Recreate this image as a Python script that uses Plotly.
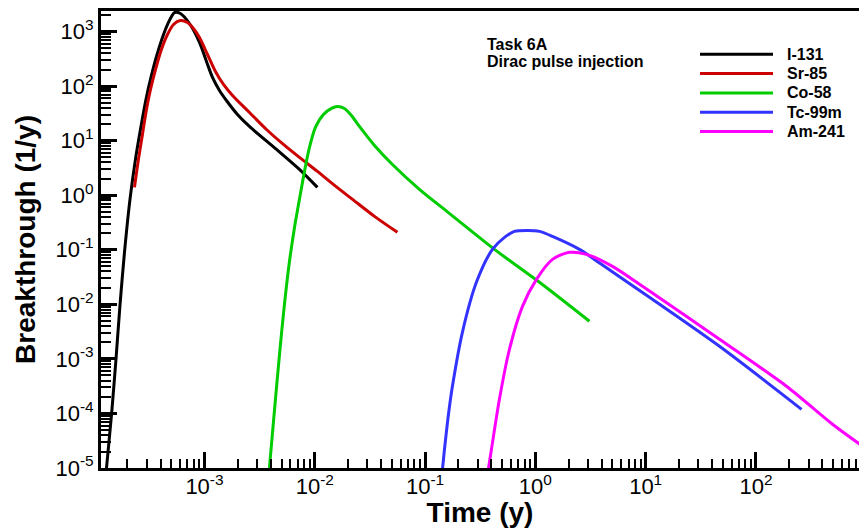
import plotly.graph_objects as go

# ---------------- data ----------------
i131_t = [1.266e-4, 1.294e-4, 1.377e-4, 1.450e-4, 1.577e-4, 1.714e-4, 1.883e-4, 2.112e-4,
          2.367e-4, 2.628e-4, 2.948e-4, 3.272e-4, 3.672e-4, 4.16e-4, 4.62e-4, 5.35e-4,
          6.05e-4, 7.31e-4, 9.01e-4, 1.043e-3, 1.183e-3, 1.368e-3, 1.582e-3, 1.991e-3,
          2.557e-3, 4.50e-3, 7.26e-3, 1.057e-2]
i131_b = [6.2e-6, 1.0e-5, 3.82e-5, 1.19e-4, 9.84e-4, 9.59e-3, 0.0896, 0.838,
          4.53, 16.0, 56.9, 143.7, 348, 776, 1343, 2229,
          2138, 1402, 630, 282, 144, 83.0, 54.4, 30.2,
          18.2, 6.90, 2.97, 1.39]

sr85_t = [2.32e-4, 2.52e-4, 2.74e-4, 2.98e-4, 3.24e-4, 3.60e-4, 4.07e-4, 4.62e-4, 5.24e-4,
          6.05e-4, 7.01e-4, 7.95e-4, 9.01e-4, 1.065e-3, 1.258e-3, 1.487e-3, 1.795e-3,
          2.56e-3, 3.65e-3, 5.20e-3, 7.26e-3, 1.057e-2, 1.51e-2, 2.20e-2, 3.48e-2, 5.62e-2]
sr85_b = [1.39, 4.53, 13.0, 37.2, 86.7, 201, 468, 881, 1343,
          1589, 1462, 1135, 776, 379, 185, 107, 67.3,
          32.8, 16.0, 8.51, 4.92, 2.73, 1.51, 0.838, 0.409, 0.2085]

co58_t = [3.80e-3, 3.88e-3, 4.32e-3, 4.79e-3, 5.31e-3, 5.90e-3, 6.55e-3, 7.26e-3, 8.07e-3,
          8.95e-3, 1.014e-2, 1.199e-2, 1.417e-2, 1.606e-2, 1.858e-2, 2.15e-2, 2.54e-2,
          3.48e-2, 5.06e-2, 8.89e-2, 0.166, 0.426, 1.089, 3.09]
co58_b = [6.2e-6, 1.0e-5, 1.19e-4, 1.21e-3, 1.0e-2, 6.14e-2, 0.257, 0.838, 2.73,
          7.50, 17.5, 30.2, 38.9, 42.3, 38.9, 29.0, 18.2,
          8.17, 3.66, 1.28, 0.465, 0.1016, 0.0253, 4.89e-3]

tc99m_t = [0.138, 0.144, 0.150, 0.163, 0.177, 0.218, 0.292, 0.408, 0.525, 0.646, 0.847,
           1.089, 1.429, 2.51, 3.97, 11.5, 46.7, 259]
tc99m_b = [6.2e-6, 1.0e-5, 2.21e-5, 9.66e-5, 3.15e-4, 3.07e-3, 0.0253, 0.1016, 0.1687,
           0.217, 0.226, 0.217, 0.176, 0.1016, 0.0541, 0.01236, 1.70e-3, 1.19e-4]

am241_t = [0.361, 0.376, 0.400, 0.472, 0.582, 0.764, 1.023, 1.429, 2.04, 2.90, 5.00,
           9.36, 46.7, 189, 494, 1072]
am241_b = [6.2e-6, 1.0e-5, 2.21e-5, 1.82e-4, 1.50e-3, 9.18e-3, 0.0287, 0.0667, 0.0896,
           0.0824, 0.0497, 0.0214, 2.29e-3, 3.15e-4, 6.34e-5, 2.03e-5]

series_names = ["I-131", "Sr-85", "Co-58", "Tc-99m", "Am-241"]
series_colors = ["#000000", "#cc0000", "#00cc00", "#3333ff", "#ff00ff"]

x_tickvals = [1e-3, 1e-2, 1e-1, 1e0, 1e1, 1e2]
x_ticktext = ["10<sup>-3</sup>", "10<sup>-2</sup>", "10<sup>-1</sup>",
              "10<sup>0</sup>", "10<sup>1</sup>", "10<sup>2</sup>"]
y_tickvals = [1e-5, 1e-4, 1e-3, 1e-2, 1e-1, 1e0, 1e1, 1e2, 1e3]
y_ticktext = ["10<sup>-5</sup>", "10<sup>-4</sup>", "10<sup>-3</sup>", "10<sup>-2</sup>",
              "10<sup>-1</sup>", "10<sup>0</sup>", "10<sup>1</sup>", "10<sup>2</sup>",
              "10<sup>3</sup>"]

annotation_lines = ["Task 6A", "Dirac pulse injection"]
x_title = "Time (y)"
y_title = "Breakthrough (1/y)"

# ---------------- figure ----------------
W, H = 859, 528
ML, MR, MT, MB = 101, 0, 11, 60
PW, PH = W - ML - MR, H - MT - MB


def px_x(px):
    return (px - ML) / PW


def px_y(py):
    return (H - MB - py) / PH


def minor_vals(lo, hi):
    out = []
    for e in range(lo, hi + 1):
        for k in range(2, 10):
            out.append(k * 10.0 ** e)
    return out


fig = go.Figure()
data = [(i131_t, i131_b), (sr85_t, sr85_b), (co58_t, co58_b),
        (tc99m_t, tc99m_b), (am241_t, am241_b)]
for (t, b), name, col in zip(data, series_names, series_colors):
    fig.add_trace(go.Scatter(x=t, y=b, mode="lines", name=name,
                             line=dict(color=col, width=3, shape="spline", smoothing=0.8)))

FONT = "Liberation Sans, Arial, Helvetica, sans-serif"

fig.update_layout(
    width=W, height=H,
    margin=dict(l=ML, r=MR, t=MT, b=MB),
    paper_bgcolor="white", plot_bgcolor="white",
    showlegend=False,
    font=dict(family=FONT, color="black"),
)

fig.update_xaxes(
    type="log", range=[-3.938, 2.934],
    showgrid=False, zeroline=False,
    showline=True, linecolor="black", linewidth=3, mirror=True,
    ticks="inside", ticklen=16, tickwidth=3, tickcolor="black",
    tickmode="array", tickvals=x_tickvals, ticktext=x_ticktext,
    tickfont=dict(size=22, family=FONT), ticklabelstandoff=-3,
    minor=dict(tickmode="array", tickvals=minor_vals(-4, 2), ticks="inside",
               ticklen=9, tickwidth=1.5, tickcolor="black", showgrid=False),
    title=dict(text=x_title, font=dict(size=28, family=FONT, weight="bold"), standoff=9),
)
fig.update_yaxes(
    type="log", range=[-5, 3.376],
    showgrid=False, zeroline=False,
    showline=True, linecolor="black", linewidth=3, mirror=False,
    ticks="inside", ticklen=16, tickwidth=3, tickcolor="black",
    tickmode="array", tickvals=y_tickvals, ticktext=y_ticktext,
    tickfont=dict(size=22, family=FONT),
    minor=dict(tickmode="array", tickvals=minor_vals(-5, 3), ticks="inside",
               ticklen=10, tickwidth=1.5, tickcolor="black", showgrid=False),
    title=dict(text=y_title, font=dict(size=28, family=FONT, weight="bold"), standoff=12),
)

# text block
for i, line in enumerate(annotation_lines):
    fig.add_annotation(x=px_x(485), y=px_y(44 + 17 * i), xref="paper", yref="paper",
                       text="<b>%s</b>" % line, showarrow=False, xanchor="left",
                       yanchor="middle", font=dict(size=16, family=FONT, color="black"))

# legend (drawn manually to match long sample lines)
for i, (name, col) in enumerate(zip(series_names, series_colors)):
    yy = px_y(54.3 + 19.3 * i)
    fig.add_shape(type="line", xref="paper", yref="paper",
                  x0=px_x(700), x1=px_x(773), y0=yy, y1=yy,
                  line=dict(color=col, width=3))
    fig.add_annotation(x=px_x(785), y=yy, xref="paper", yref="paper",
                       text="<b>%s</b>" % name, showarrow=False, xanchor="left",
                       yanchor="middle", font=dict(size=16, family=FONT, color="black"))

fig.write_html("out.html")
